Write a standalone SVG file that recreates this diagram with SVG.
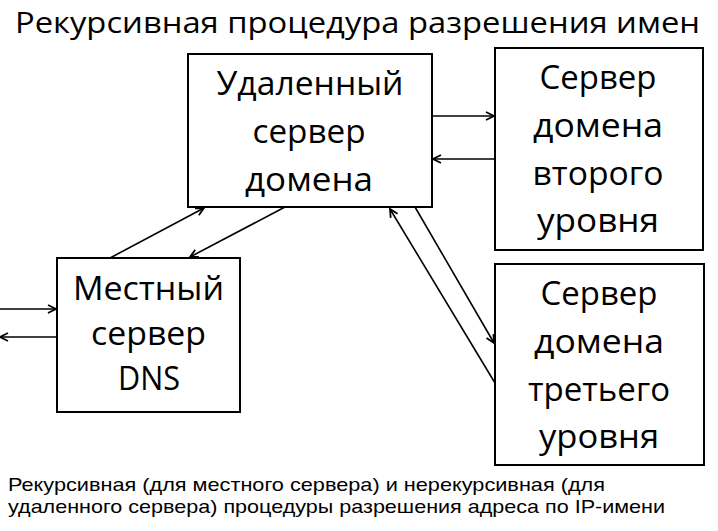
<svg xmlns="http://www.w3.org/2000/svg" width="718" height="531" viewBox="0 0 718 531">
<style>
.box{fill:#fff;stroke:#000;stroke-width:2}
.t{font-family:"Open Sans","Liberation Sans",sans-serif;font-size:32px;fill:#000;text-anchor:middle}
.title{font-family:"Open Sans","Liberation Sans",sans-serif;font-size:30px;fill:#000}
.cap{font-family:"Liberation Sans",sans-serif;font-size:19px;fill:#000}
.c{stroke:#000;stroke-width:1.6;fill:none;marker-end:url(#ah)}
</style>
<defs>
<marker id="ah" markerUnits="userSpaceOnUse" markerWidth="12" markerHeight="12" refX="9" refY="5" orient="auto">
<path d="M1,1 L9,5 L1,9" fill="none" stroke="#000" stroke-width="1.8"/>
</marker>
</defs>
<rect width="718" height="531" fill="#fff"/>
<text class="title" x="15" y="33" textLength="685" lengthAdjust="spacingAndGlyphs">Рекурсивная процедура разрешения имен</text>

<g id="remote">
<rect class="box" x="188" y="54" width="244" height="153"/>
<text class="t" x="310" y="95" textLength="187" lengthAdjust="spacingAndGlyphs">Удаленный</text>
<text class="t" x="309" y="143" textLength="113" lengthAdjust="spacingAndGlyphs">сервер</text>
<text class="t" x="309" y="191" textLength="128" lengthAdjust="spacingAndGlyphs">домена</text>
</g>
<g id="second">
<rect class="box" x="495" y="48" width="208" height="202"/>
<text class="t" x="598" y="89" textLength="117" lengthAdjust="spacingAndGlyphs">Сервер</text>
<text class="t" x="598" y="137" textLength="130" lengthAdjust="spacingAndGlyphs">домена</text>
<text class="t" x="598" y="185" textLength="131" lengthAdjust="spacingAndGlyphs">второго</text>
<text class="t" x="598" y="232" textLength="122" lengthAdjust="spacingAndGlyphs">уровня</text>
</g>
<g id="third">
<rect class="box" x="495" y="264" width="209" height="201"/>
<text class="t" x="599" y="305" textLength="117" lengthAdjust="spacingAndGlyphs">Сервер</text>
<text class="t" x="599" y="353" textLength="130" lengthAdjust="spacingAndGlyphs">домена</text>
<text class="t" x="599" y="401" textLength="142" lengthAdjust="spacingAndGlyphs">третьего</text>
<text class="t" x="599" y="448" textLength="120" lengthAdjust="spacingAndGlyphs">уровня</text>
</g>
<g id="local">
<rect class="box" x="57" y="258" width="183" height="154"/>
<text class="t" x="148.5" y="300" textLength="151" lengthAdjust="spacingAndGlyphs">Местный</text>
<text class="t" x="148.5" y="345" textLength="115" lengthAdjust="spacingAndGlyphs">сервер</text>
<text class="t" x="149" y="390" textLength="62" lengthAdjust="spacingAndGlyphs">DNS</text>
</g>

<g id="connectors">
<line class="c" x1="433" y1="116" x2="494" y2="116"/>
<line class="c" x1="495" y1="159" x2="433" y2="159"/>
<line class="c" x1="110" y1="258" x2="204" y2="208"/>
<line class="c" x1="285" y1="207" x2="190" y2="257"/>
<line class="c" x1="0" y1="309" x2="56" y2="309"/>
<line class="c" x1="56" y1="337" x2="0" y2="337"/>
<line class="c" x1="415" y1="207" x2="494" y2="343"/>
<line class="c" x1="495" y1="383" x2="390" y2="209"/>
</g>

<text class="cap" x="8" y="491" textLength="597" lengthAdjust="spacingAndGlyphs">Рекурсивная (для местного сервера) и нерекурсивная (для</text>
<text class="cap" x="8" y="513" textLength="657" lengthAdjust="spacingAndGlyphs">удаленного сервера) процедуры разрешения адреса по IP-имени</text>
</svg>
